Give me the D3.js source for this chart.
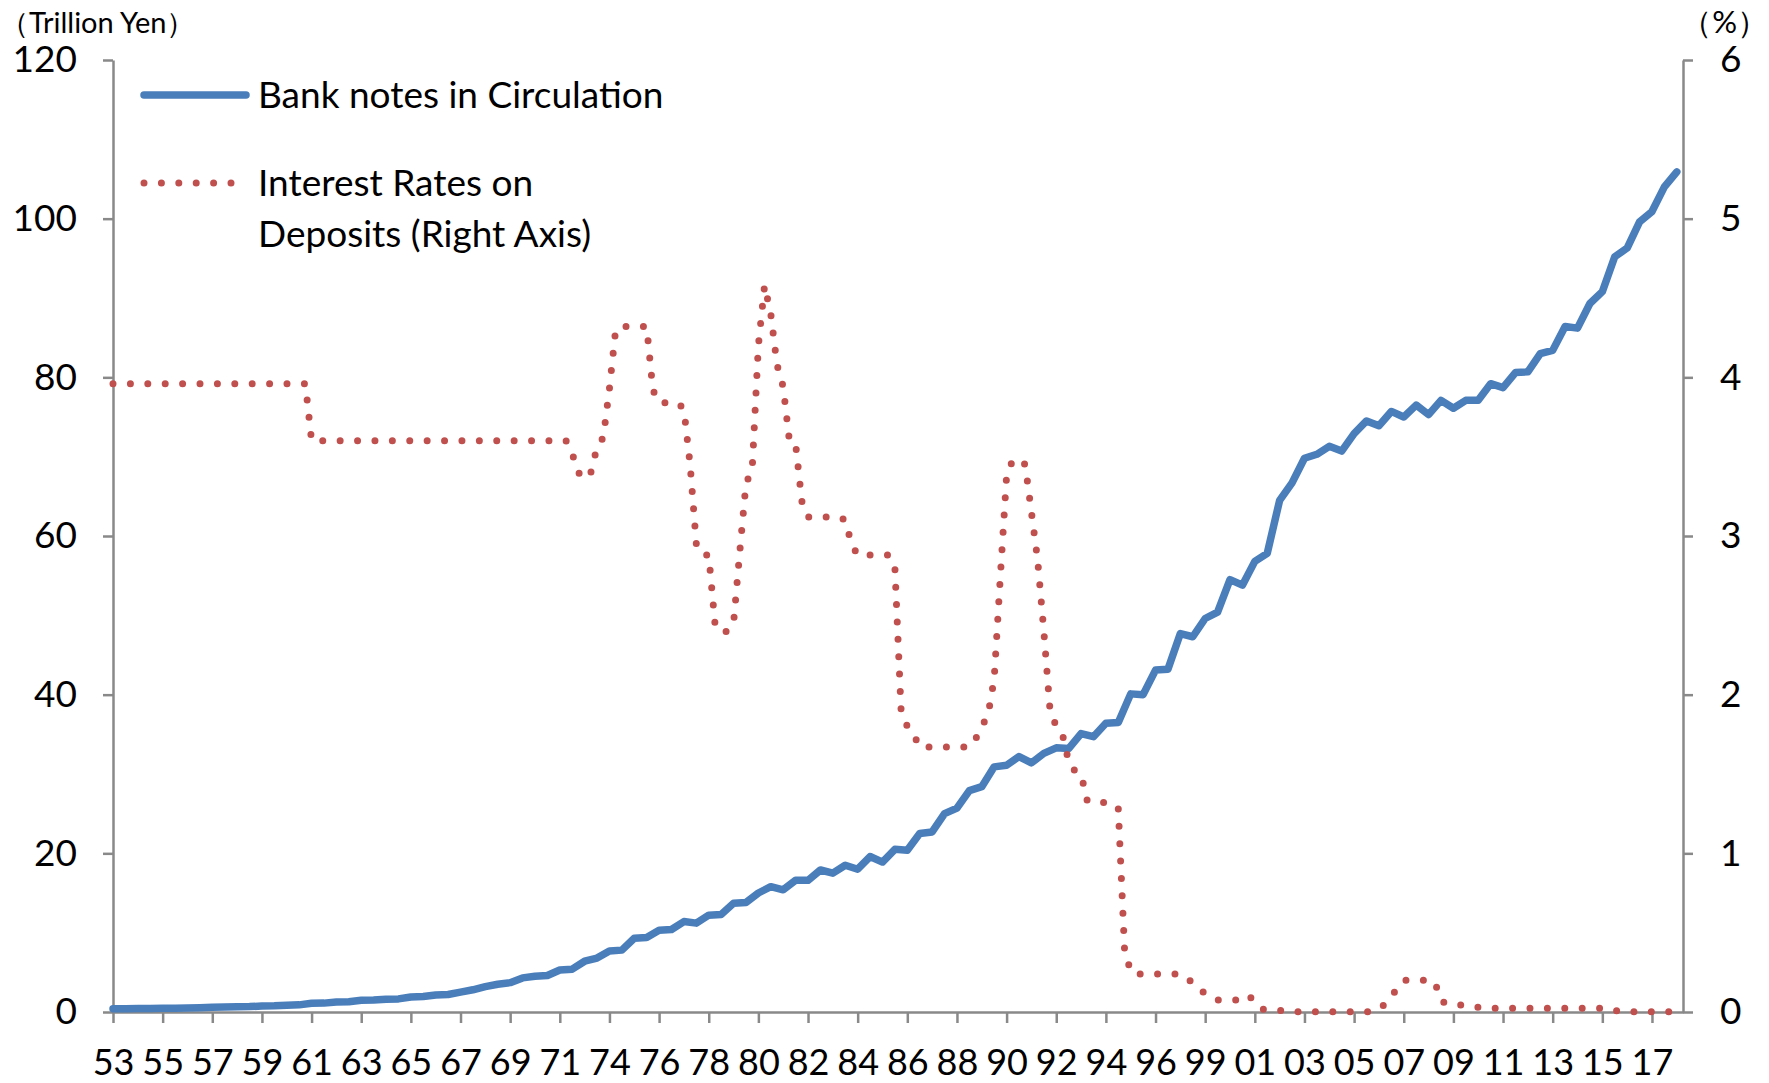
<!DOCTYPE html>
<html>
<head>
<meta charset="utf-8">
<script src="https://cdn.jsdelivr.net/npm/d3@7"></script>
<style>
  body { margin: 0; background: #fff; }
  svg text { font-family: Lato, 'Open Sans', sans-serif; fill: #000; }
</style>
</head>
<body>
<svg id="chart" width="1769" height="1083"></svg>
<script>
// x categories: quarterly rows, a label every 8 rows
const yearLabels = ['53', '55', '57', '59', '61', '63', '65', '67', '69', '71', '74', '76', '78', '80', '82', '84',
  '86', '88', '90', '92', '94', '96', '99', '01', '03', '05', '07', '09', '11', '13', '15', '17']

// bank notes in circulation, trillion yen, two points a year (every 2nd row)
const notes = [
  0.42, 0.42, 0.43, 0.44, 0.46, 0.48, 0.50, 0.54, 0.60, 0.62,
  0.66, 0.68, 0.75, 0.78, 0.86, 0.90, 1.10, 1.12, 1.25, 1.28,
  1.47, 1.50, 1.62, 1.65, 1.90, 1.95, 2.15, 2.20, 2.50, 2.80,
  3.20, 3.50, 3.70, 4.30, 4.50, 4.60, 5.30, 5.40, 6.40, 6.80,
  7.70, 7.80, 9.30, 9.40, 10.3, 10.4, 11.4, 11.2, 12.2, 12.3,
  13.7, 13.8, 15.0, 15.8, 15.4, 16.6, 16.6, 17.9, 17.5, 18.5,
  18.0, 19.6, 18.9, 20.5, 20.4, 22.5, 22.7, 25.0, 25.7, 27.9,
  28.4, 30.9, 31.1, 32.2, 31.4, 32.6, 33.3, 33.2, 35.1, 34.7,
  36.4, 36.5, 40.1, 40.0, 43.1, 43.2, 47.7, 47.3, 49.6, 50.4,
  54.5, 53.8, 56.8, 57.8, 64.5, 66.7, 69.8, 70.3, 71.3, 70.7,
  72.9, 74.5, 73.9, 75.7, 75.0, 76.5, 75.3, 77.1, 76.1, 77.1,
  77.1, 79.2, 78.7, 80.6, 80.7, 83.0, 83.4, 86.4, 86.2, 89.3,
  90.8, 95.2, 96.3, 99.6, 100.9, 104.0, 105.9
]

// interest rates on deposits, %, one point per row
const depositRate = [
  3.96, 3.96, 3.96, 3.96, 3.96, 3.96, 3.96, 3.96,
  3.96, 3.96, 3.96, 3.96, 3.96, 3.96, 3.96, 3.96,
  3.96, 3.96, 3.96, 3.96, 3.96, 3.96, 3.96, 3.96,
  3.96, 3.96, 3.96, 3.96, 3.96, 3.96, 3.96, 3.96,
  3.60, 3.60, 3.60, 3.60, 3.60, 3.60, 3.60, 3.60,
  3.60, 3.60, 3.60, 3.60, 3.60, 3.60, 3.60, 3.60,
  3.60, 3.60, 3.60, 3.60, 3.60, 3.60, 3.60, 3.60,
  3.60, 3.60, 3.60, 3.60, 3.60, 3.60, 3.60, 3.60,
  3.60, 3.60, 3.60, 3.60, 3.60, 3.60, 3.60, 3.60,
  3.60, 3.60, 3.52, 3.40, 3.36, 3.40, 3.56, 3.62,
  3.93, 4.30, 4.32, 4.32, 4.32, 4.32, 4.32, 3.92,
  3.84, 3.84, 3.84, 3.84, 3.80, 3.45, 2.95, 2.88,
  2.88, 2.45, 2.39, 2.40, 2.45, 2.90, 3.33, 3.42,
  4.20, 4.58, 4.40, 4.08, 3.94, 3.60, 3.58, 3.22,
  3.12, 3.12, 3.12, 3.12, 3.12, 3.12, 3.10, 2.95,
  2.88, 2.88, 2.88, 2.88, 2.88, 2.88, 2.80, 1.90,
  1.80, 1.75, 1.67, 1.67, 1.67, 1.67, 1.67, 1.67,
  1.67, 1.67, 1.67, 1.72, 1.80, 1.87, 2.10, 2.75,
  3.38, 3.48, 3.48, 3.45, 3.15, 2.85, 2.40, 1.90,
  1.80, 1.75, 1.58, 1.52, 1.50, 1.33, 1.32, 1.32,
  1.32, 1.32, 1.28, 0.40, 0.25, 0.24, 0.24, 0.24,
  0.24, 0.24, 0.24, 0.24, 0.24, 0.22, 0.18, 0.14,
  0.12, 0.09, 0.076, 0.076, 0.076, 0.076, 0.09, 0.107,
  0.06, 0.02, 0.015, 0.01, 0.01, 0.005, 0.002, 0.002,
  0.002, 0.002, 0.002, 0.002, 0.002, 0.002, 0.002, 0.002,
  0.002, 0.002, 0.002, 0.002, 0.02, 0.05, 0.10, 0.15,
  0.20, 0.20, 0.20, 0.20, 0.20, 0.19, 0.07, 0.05,
  0.044, 0.044, 0.044, 0.04, 0.03, 0.023, 0.023, 0.023,
  0.023, 0.023, 0.023, 0.023, 0.023, 0.023, 0.023, 0.023,
  0.023, 0.023, 0.023, 0.023, 0.023, 0.023, 0.023, 0.023,
  0.023, 0.023, 0.01, 0.002, 0.002, 0.002, 0.002, 0.002,
  0.002, 0.002, 0.002, 0.002, 0.002, 0.002
]

const leftTicks = [0, 20, 40, 60, 80, 100, 120]
const rightTicks = [0, 1, 2, 3, 4, 5, 6]

const svg = d3.select('#chart')
const width = +svg.attr('width')
const height = +svg.attr('height')
const margin = { left: 113, right: 86, top: 60, bottom: 71 }
const axisColor = '#898989'
const blue = '#4A7EBB'
const red = '#C0504D'

const x = d3.scaleLinear()
  .domain([0, depositRate.length - 1])
  .range([margin.left, width - margin.right])
const yLeft = d3.scaleLinear()
  .domain([0, 120])
  .range([height - margin.bottom, margin.top])
const yRight = d3.scaleLinear()
  .domain([0, 6])
  .range([height - margin.bottom, margin.top])

const leftAxisG = svg.append('g')
  .attr('transform', `translate(${margin.left},0)`)
  .call(d3.axisLeft(yLeft).tickValues(leftTicks).tickFormat(d3.format('d'))
    .tickSize(10).tickSizeOuter(0).tickPadding(26))
const rightAxisG = svg.append('g')
  .attr('transform', `translate(${width - margin.right},0)`)
  .call(d3.axisRight(yRight).tickValues(rightTicks).tickFormat(d3.format('d'))
    .tickSize(10).tickSizeOuter(0).tickPadding(27))
const xAxisG = svg.append('g')
  .attr('transform', `translate(0,${height - margin.bottom})`)
  .call(d3.axisBottom(x)
    .tickValues(d3.range(0, yearLabels.length * 8, 8))
    .tickFormat((d, i) => yearLabels[i])
    .tickSize(11).tickSizeOuter(0).tickPadding(26))

;[leftAxisG, rightAxisG, xAxisG].forEach(g => {
  g.selectAll('.domain').attr('stroke', axisColor).attr('stroke-width', 2.5)
  g.selectAll('.tick line').attr('stroke', axisColor).attr('stroke-width', 2.5)
  g.selectAll('.tick text')
    .style('font-family', 'Lato, sans-serif')
    .style('font-size', '37px')
    .attr('fill', '#000')
})
xAxisG.selectAll('.tick text').style('font-size', '36px')

// bank notes (left axis)
const notesLine = d3.line()
  .x((d, j) => x(j * 2))
  .y(d => yLeft(d))
svg.append('path')
  .datum(notes)
  .attr('d', notesLine)
  .attr('fill', 'none')
  .attr('stroke', blue)
  .attr('stroke-width', 7.5)
  .attr('stroke-linejoin', 'round')
  .attr('stroke-linecap', 'round')

// deposit rates (right axis), round dots
const rateLine = d3.line()
  .x((d, i) => x(i))
  .y(d => yRight(d))
svg.append('path')
  .datum(depositRate)
  .attr('d', rateLine)
  .attr('fill', 'none')
  .attr('stroke', red)
  .attr('stroke-width', 7)
  .attr('stroke-linecap', 'round')
  .attr('stroke-dasharray', '0 17.4')

// unit labels
svg.append('text')
  .attr('x', 0)
  .attr('y', 33)
  .style('font-size', '29px')
  .text('（Trillion Yen）')
svg.append('text')
  .attr('x', 1768)
  .attr('y', 33)
  .attr('text-anchor', 'end')
  .style('font-size', '31px')
  .text('（%）')

// legend
const legend = svg.append('g')
legend.append('line')
  .attr('x1', 144).attr('x2', 246)
  .attr('y1', 95).attr('y2', 95)
  .attr('stroke', blue)
  .attr('stroke-width', 7.5)
  .attr('stroke-linecap', 'round')
legend.append('line')
  .attr('x1', 144).attr('x2', 235)
  .attr('y1', 183).attr('y2', 183)
  .attr('stroke', red)
  .attr('stroke-width', 7)
  .attr('stroke-linecap', 'round')
  .attr('stroke-dasharray', '0 17.4')
const legendText = [
  { t: 'Bank notes in Circulation', y: 95 },
  { t: 'Interest Rates on', y: 183 },
  { t: 'Deposits (Right Axis)', y: 234 }
]
legend.selectAll('text.lg')
  .data(legendText)
  .enter().append('text')
  .attr('class', 'lg')
  .attr('x', 258)
  .attr('y', d => d.y)
  .attr('dy', '0.36em')
  .style('font-size', '37px')
  .text(d => d.t)
</script>
</body>
</html>
